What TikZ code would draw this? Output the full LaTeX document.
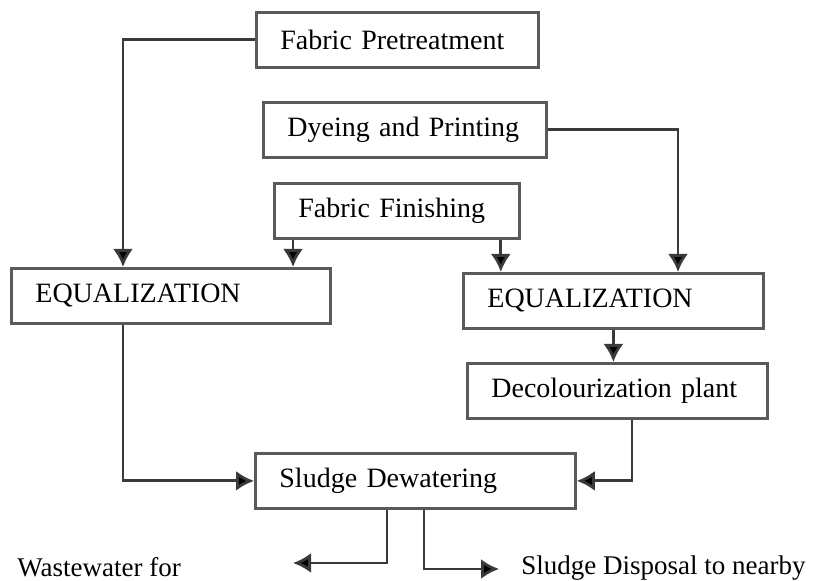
\documentclass[tikz,border=0pt]{standalone}
\usepackage{fontspec}
\setmainfont{Liberation Serif}
\usepackage{xcolor}
\usetikzlibrary{arrows.meta,calc}
\definecolor{boxgray}{HTML}{5A5A5A}
\definecolor{linegray}{HTML}{3A3A3A}
\tikzset{>={Latex[length=9pt,width=10pt,fill=black]}}
\tikzset{
  unitbox/.style={draw=boxgray,line width=1.4pt,anchor=north west,align=left,
    inner xsep=12pt,inner ysep=0pt,minimum height=27.5pt,text width=#1,
    font=\fontsize{14}{16}\selectfont},
  flow/.style={->,draw=linegray,line width=1.4pt},
  outlabel/.style={anchor=base west,inner sep=0pt,font=\fontsize{13.5}{16}\selectfont}
}

\begin{document}
\begin{tikzpicture}[x=0.5pt,y=-0.5pt]
  \useasboundingbox (0,0) rectangle (815,581);

  % Boxes
  \node[unitbox=117pt] (pretreat) at (255,11) {Fabric Pretreatment};
  \node[unitbox=117.5pt] (dyeing) at (262,101) {Dyeing and Printing};
  \node[unitbox=98.5pt] (finishing) at (273,182) {Fabric Finishing};
  \node[unitbox=135.5pt] (eqleft) at (10,267) {EQUALIZATION};
  \node[unitbox=126pt] (eqright) at (462,272) {EQUALIZATION};
  \node[unitbox=126pt] (decol) at (466,362) {Decolourization plant};
  \node[unitbox=136pt] (sludge) at (254,452) {Sludge Dewatering};

  % Free ends
  \coordinate (wwend) at (293,563);
  \coordinate (sdend) at (499,569);

  % Lines
  \draw[flow] (pretreat.west) -| ([xshift=56.5pt]eqleft.north west);
  \draw[flow] ([xshift=10pt]finishing.south west) -- ([xshift=10pt]finishing.south west |- eqleft.north);
  \draw[flow] ([xshift=-10pt]finishing.south east) -- ([xshift=-10pt]finishing.south east |- eqright.north);
  \draw[flow] (dyeing.east) -| ([xshift=108pt]eqright.north west);
  \draw[flow] (eqright.south) -- (eqright.south |- decol.north);
  \draw[flow] ([xshift=56.5pt]eqleft.south west) |- (sludge.west);
  \draw[flow] ([xshift=83pt]decol.south west) |- (sludge.east);
  \draw[flow] ([xshift=66.5pt]sludge.south west) |- (wwend);
  \draw[flow] ([xshift=85pt]sludge.south west) |- (sdend);

  % Labels
  \node[outlabel] (wwlabel) at (17,577) {Wastewater for};
  \node[outlabel] (sdlabel) at (521,575) {Sludge Disposal to nearby};
\end{tikzpicture}
\end{document}
